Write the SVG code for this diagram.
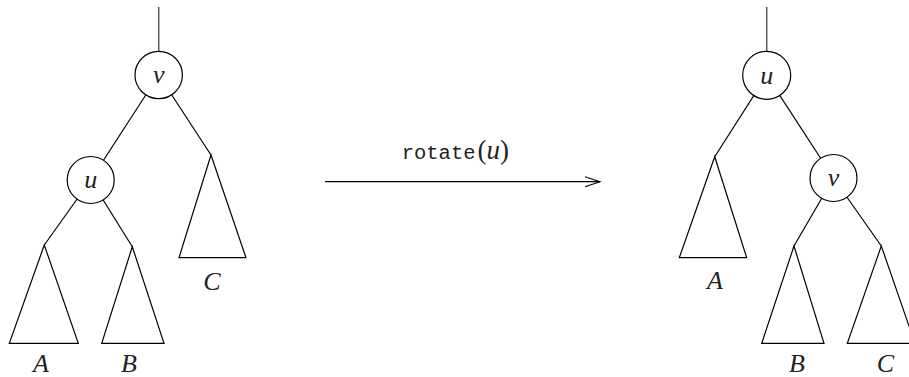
<svg xmlns="http://www.w3.org/2000/svg" width="909" height="377" viewBox="0 0 909 377">
<style>
.ln{stroke:#000;stroke-width:1.2;fill:none}
.top{stroke:#555;stroke-width:1.5;fill:none}
.tri{stroke:#000;stroke-width:1.2;fill:none;stroke-linejoin:miter}
.nd{stroke:#000;stroke-width:1.2;fill:#fff}
.lbl{font-family:"Liberation Serif","DejaVu Serif",serif;font-style:italic;font-size:26px;fill:#222}
.mono{font-family:"Liberation Mono","DejaVu Sans Mono",monospace;font-size:20.5px;fill:#222}
.ser{font-family:"Liberation Serif","DejaVu Serif",serif;font-size:27px;fill:#222}
</style>
<defs>
<marker id="arr" markerWidth="18" markerHeight="12" refX="16" refY="6" orient="auto" markerUnits="userSpaceOnUse">
<path d="M1,1 L16,6 L1,11" fill="none" stroke="#000" stroke-width="1.1"/>
</marker>
</defs>

<g id="connectors">
<!-- left tree -->
<line class="top" x1="158.7" y1="7" x2="158.7" y2="51"/>
<line class="ln" x1="158.7" y1="75" x2="90.7" y2="180"/>
<line class="ln" x1="158.7" y1="75" x2="211" y2="155"/>
<line class="ln" x1="90.7" y1="180" x2="44.3" y2="245"/>
<line class="ln" x1="90.7" y1="180" x2="132.3" y2="246.7"/>
<!-- right tree -->
<line class="top" x1="766.7" y1="7" x2="766.7" y2="51"/>
<line class="ln" x1="766.7" y1="75.3" x2="714.7" y2="156.7"/>
<line class="ln" x1="766.7" y1="75.3" x2="833.5" y2="178"/>
<line class="ln" x1="833.5" y1="178" x2="794" y2="246"/>
<line class="ln" x1="833.5" y1="178" x2="881.3" y2="246"/>
<!-- arrow -->
<line class="ln" x1="325" y1="181.7" x2="600" y2="181.7" marker-end="url(#arr)"/>
</g>

<g id="left-v">
<circle class="nd" cx="158.7" cy="75" r="23.7"/>
<text class="lbl" x="158.7" y="83" text-anchor="middle">v</text>
</g>
<g id="left-u">
<circle class="nd" cx="90.7" cy="180" r="23.5"/>
<text class="lbl" x="90.7" y="188" text-anchor="middle">u</text>
</g>
<g id="left-A">
<path class="tri" d="M44.3,245 L9.3,343.3 L78.3,343.3 Z"/>
<text class="lbl" x="41" y="372" text-anchor="middle">A</text>
</g>
<g id="left-B">
<path class="tri" d="M132.3,246.7 L101.7,343.3 L164,343.3 Z"/>
<text class="lbl" x="129" y="372" text-anchor="middle">B</text>
</g>
<g id="left-C">
<path class="tri" d="M211,155 L179,257.7 L246,257.7 Z"/>
<text class="lbl" x="212" y="290" text-anchor="middle">C</text>
</g>

<g id="label-rotate">
<text x="401.7" y="159"><tspan class="mono">rotate</tspan><tspan class="ser" dx="2">(</tspan><tspan class="ser" font-style="italic">u</tspan><tspan class="ser">)</tspan></text>
</g>

<g id="right-u">
<circle class="nd" cx="766.7" cy="75.3" r="24"/>
<text class="lbl" x="766.7" y="83.5" text-anchor="middle">u</text>
</g>
<g id="right-v">
<circle class="nd" cx="833.5" cy="178" r="23.5"/>
<text class="lbl" x="833.5" y="186" text-anchor="middle">v</text>
</g>
<g id="right-A">
<path class="tri" d="M714.7,156.7 L679.3,257.7 L746.7,257.7 Z"/>
<text class="lbl" x="715" y="289" text-anchor="middle">A</text>
</g>
<g id="right-B">
<path class="tri" d="M794,246 L761.7,343.3 L824,343.3 Z"/>
<text class="lbl" x="797" y="372" text-anchor="middle">B</text>
</g>
<g id="right-C">
<path class="tri" d="M881.3,246 L847.3,343.3 L915,343.3 Z"/>
<text class="lbl" x="885.5" y="372" text-anchor="middle">C</text>
</g>
</svg>
